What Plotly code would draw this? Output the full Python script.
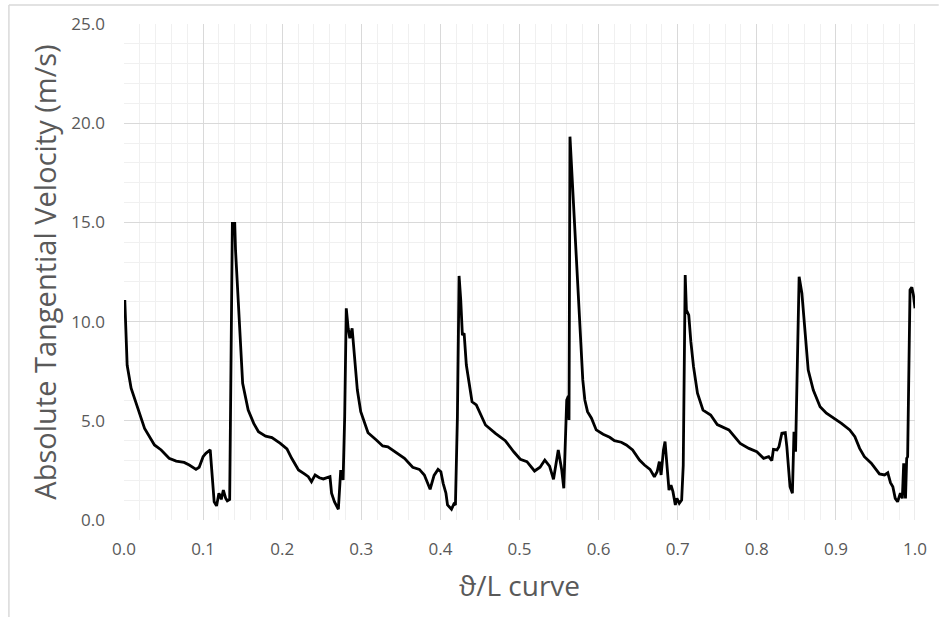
import plotly.graph_objects as go

# theta/L positions along the curve
x_pos = [0.001, 0.004, 0.009, 0.019, 0.026, 0.0385, 0.047, 0.057, 0.066, 0.076,
         0.0825, 0.091, 0.095, 0.100, 0.1035, 0.109, 0.114, 0.117, 0.120, 0.123,
         0.1256, 0.1286, 0.1306, 0.1336, 0.137, 0.140, 0.141, 0.150, 0.157, 0.164,
         0.170, 0.179, 0.187, 0.1976, 0.206, 0.212, 0.2206, 0.229, 0.233, 0.237,
         0.2416, 0.247, 0.252, 0.2604, 0.2624, 0.266, 0.271, 0.274, 0.277, 0.279,
         0.281, 0.2834, 0.2855, 0.2884, 0.292, 0.295, 0.2993, 0.3085, 0.319, 0.327,
         0.3336, 0.344, 0.3546, 0.365, 0.3734, 0.3797, 0.387, 0.392, 0.397, 0.4006,
         0.4035, 0.407, 0.409, 0.414, 0.417, 0.419, 0.4215, 0.4236, 0.4257, 0.4278,
         0.430, 0.4328, 0.436, 0.440, 0.4454, 0.457, 0.4696, 0.482, 0.4927, 0.501,
         0.5094, 0.519, 0.526, 0.532, 0.538, 0.543, 0.549, 0.5534, 0.556, 0.5597,
         0.5618, 0.5626, 0.5638, 0.566, 0.568, 0.5713, 0.5743, 0.577, 0.580, 0.5826,
         0.586, 0.591, 0.597, 0.6057, 0.614, 0.620, 0.6287, 0.635, 0.643, 0.6517,
         0.658, 0.665, 0.6705, 0.674, 0.6768, 0.679, 0.682, 0.684, 0.687, 0.689,
         0.6915, 0.694, 0.697, 0.699, 0.702, 0.705, 0.707, 0.7095, 0.711, 0.714,
         0.7166, 0.720, 0.725, 0.732, 0.7417, 0.750, 0.7647, 0.779, 0.790, 0.800,
         0.8086, 0.815, 0.819, 0.821, 0.8255, 0.828, 0.8317, 0.836, 0.838, 0.842,
         0.845, 0.847, 0.849, 0.8535, 0.857, 0.861, 0.865, 0.8714, 0.880, 0.888,
         0.8987, 0.907, 0.9175, 0.924, 0.930, 0.936, 0.9447, 0.951, 0.955, 0.9615,
         0.9656, 0.969, 0.972, 0.975, 0.978, 0.9815, 0.984, 0.9857, 0.988, 0.9895,
         0.9907, 0.9937, 0.996, 0.998, 1.000]

# absolute tangential velocity (m/s)
velocity = [11.09, 7.80, 6.64, 5.38, 4.62, 3.78, 3.53, 3.11, 2.97, 2.90,
            2.77, 2.55, 2.66, 3.19, 3.36, 3.53, 0.92, 0.71, 1.35, 1.04,
            1.51, 1.09, 0.97, 1.04, 14.95, 14.95, 13.60, 6.89, 5.54, 4.87,
            4.45, 4.23, 4.15, 3.86, 3.58, 3.11, 2.52, 2.30, 2.18, 1.93,
            2.27, 2.13, 2.07, 2.18, 1.35, 0.92, 0.54, 2.52, 2.02, 5.21,
            10.67, 9.66, 9.16, 9.66, 8.06, 6.55, 5.46, 4.40, 4.03, 3.73,
            3.69, 3.41, 3.11, 2.66, 2.55, 2.27, 1.55, 2.25, 2.55, 2.43,
            1.85, 1.35, 0.76, 0.54, 0.81, 0.76, 5.21, 12.30, 11.09, 9.32,
            9.41, 7.81, 6.89, 5.96, 5.80, 4.79, 4.37, 4.00, 3.44, 3.06,
            2.94, 2.47, 2.66, 3.02, 2.72, 2.05, 3.53, 2.52, 1.60, 6.05,
            6.25, 5.04, 19.32, 17.64, 16.30, 13.61, 11.76, 9.41, 7.06, 6.05,
            5.46, 5.13, 4.54, 4.32, 4.17, 4.00, 3.92, 3.78, 3.53, 3.02,
            2.77, 2.55, 2.18, 2.43, 2.94, 2.27, 3.53, 3.95, 2.69, 1.51,
            1.76, 1.43, 0.76, 1.09, 0.84, 1.01, 2.75, 12.35, 10.58, 10.33,
            9.00, 7.73, 6.39, 5.54, 5.29, 4.81, 4.54, 3.86, 3.61, 3.44,
            3.11, 3.19, 2.99, 3.56, 3.53, 3.69, 4.37, 4.40, 3.69, 1.68,
            1.35, 4.45, 3.44, 12.26, 11.43, 9.41, 7.56, 6.55, 5.71, 5.38,
            5.09, 4.87, 4.54, 4.20, 3.61, 3.19, 2.86, 2.52, 2.32, 2.27,
            2.38, 1.88, 1.68, 1.09, 0.92, 1.35, 1.09, 2.86, 1.09, 3.11,
            3.19, 11.59, 11.73, 11.34, 10.67]

x_title = "ϑ/L curve"
y_title = "Absolute Tangential Velocity (m/s)"

FONT = "Open Sans"
GRAY = "#595959"

fig = go.Figure()
fig.add_trace(go.Scatter(
    x=x_pos, y=velocity, mode="lines",
    line=dict(color="black", width=2.8),
    showlegend=False, hoverinfo="x+y",
))

fig.update_layout(
    width=939, height=617,
    margin=dict(l=124, r=18, t=24, b=97),
    paper_bgcolor="white", plot_bgcolor="white",
    font=dict(family=FONT, color=GRAY),
    xaxis=dict(
        range=[0, 1], tick0=0, dtick=0.1, tickformat=".1f",
        showgrid=True, gridcolor="#d9d9d9", gridwidth=1,
        minor=dict(dtick=0.02, showgrid=True, gridcolor="#f0f0f0", gridwidth=1),
        zeroline=False, showline=False,
        tickfont=dict(size=17, color=GRAY, family=FONT),
        ticklabelstandoff=17,
        title=dict(text=x_title, font=dict(size=28, color=GRAY, family=FONT), standoff=17),
    ),
    yaxis=dict(
        range=[0, 25], tick0=0, dtick=5, tickformat=".1f",
        showgrid=True, gridcolor="#d9d9d9", gridwidth=1,
        minor=dict(dtick=1, showgrid=True, gridcolor="#f0f0f0", gridwidth=1),
        zeroline=False, showline=False,
        tickfont=dict(size=17, color=GRAY, family=FONT),
        ticklabelstandoff=18,
        title=dict(text=y_title, font=dict(size=29, color=GRAY, family=FONT), standoff=6),
    ),
    shapes=[
        dict(type="line", xref="paper", yref="paper", x0=-0.1455, x1=1.03,
             y0=1.0383, y1=1.0383, line=dict(color="#d9d9d9", width=1.5)),
        dict(type="line", xref="paper", yref="paper", x0=-0.1455, x1=-0.1455,
             y0=1.0383, y1=-0.2, line=dict(color="#d9d9d9", width=1.5)),
        dict(type="line", xref="x", yref="y", x0=1, x1=1, y0=0, y1=25,
             line=dict(color="#d9d9d9", width=1), layer="below"),
    ],
)

fig.write_html("out.html", config={"displayModeBar": False},
               post_script="document.body.style.margin='0';")
